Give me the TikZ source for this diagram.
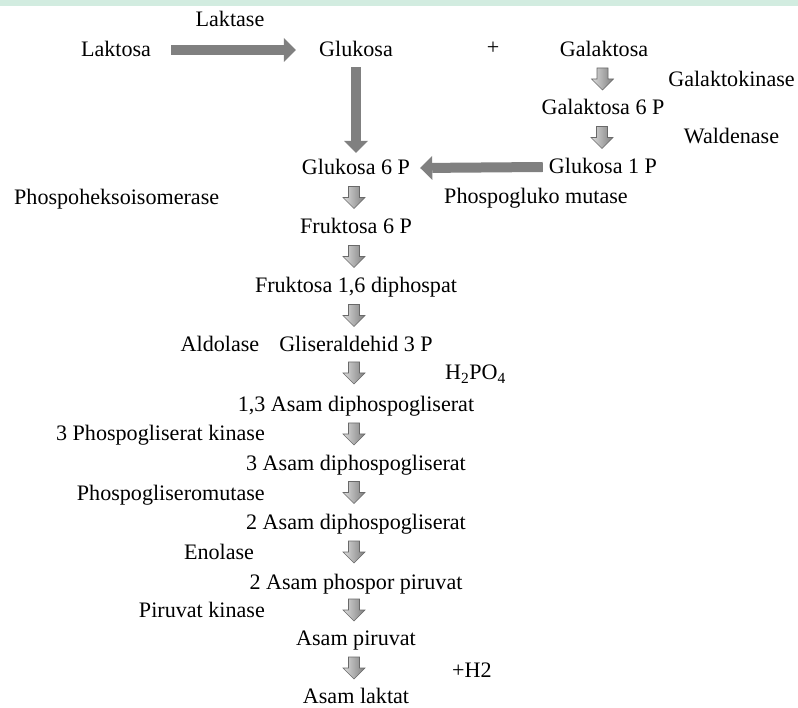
\documentclass[tikz,border=0pt]{standalone}
\usepackage{fontspec}
\setmainfont{Liberation Serif}
\usetikzlibrary{arrows.meta,calc}
\definecolor{arrgray}{RGB}{128,128,128}
\definecolor{bandgreen}{RGB}{210,236,224}
\definecolor{arrout}{RGB}{105,105,105}
\definecolor{arrlight}{RGB}{220,220,220}
\definecolor{arrdark}{RGB}{125,125,125}
\tikzset{
  lbl/.style={font=\fontsize{22.1}{26}\selectfont, inner sep=0pt, text height=14pt, text depth=0pt},
  bigarr/.style={draw=arrgray, line width=10pt, -{Triangle[width=24pt,length=12pt,line width=0pt]}},
  downarr/.pic={
    \draw[draw=arrout, line width=0.6pt, line join=miter, left color=arrlight, right color=arrdark]
      (-5.5,-11) -- (5.5,-11) -- (5.5,0) -- (11,0) -- (0,11) -- (-11,0) -- (-5.5,0) -- cycle;
  }
}
\begin{document}
\begin{tikzpicture}[x=1pt,y=-1pt]
\useasboundingbox (0,0) rectangle (798,708);
\fill[white] (0,0) rectangle (798,708);
\fill[bandgreen] (0,0) rectangle (798,6);

\node[lbl] (lakto) at (116,50) {Laktosa};
\node[lbl] (laktase) at (230,20) {Laktase};
\node[lbl] (glu) at (356,50) {Glukosa};
\node[lbl] (plus) at (493,48) {+};
\node[lbl] (gal) at (604,50) {Galaktosa};
\node[lbl] (galk) at (731.5,80) {Galaktokinase};
\node[lbl] (gal6) at (603,108) {Galaktosa 6 P};
\node[lbl] (wald) at (731.5,137) {Waldenase};
\node[lbl] (g1p) at (603,167) {Glukosa 1 P};
\node[lbl] (pgm) at (536,197) {Phospogluko mutase};
\node[lbl] (g6p) at (356,168) {Glukosa 6 P};
\node[lbl,anchor=west] (phi) at (14,198) {Phospoheksoisomerase};
\node[lbl] (f6p) at (356,227) {Fruktosa 6 P};
\node[lbl] (f16) at (356,286) {Fruktosa 1,6 diphospat};
\node[lbl] (ald) at (220,345) {Aldolase};
\node[lbl] (gli) at (356,345) {Gliseraldehid 3 P};
\node[lbl,anchor=west] (h2po4) at (445,373) {H\textsubscript{2}PO\textsubscript{4}};
\node[lbl] (a13) at (356,405) {1,3 Asam diphospogliserat};
\node[lbl,anchor=east] (pgk) at (265,433) {3 Phospogliserat kinase};
\node[lbl] (a3) at (356,463) {3 Asam diphospogliserat};
\node[lbl,anchor=east] (pgmu) at (265,493) {Phospogliseromutase};
\node[lbl] (a2) at (356,522) {2 Asam diphospogliserat};
\node[lbl] (eno) at (219,552) {Enolase};
\node[lbl] (app) at (356,582) {2 Asam phospor piruvat};
\node[lbl,anchor=east] (pk) at (265,610) {Piruvat kinase};
\node[lbl] (ap) at (356,638) {Asam piruvat};
\node[lbl,anchor=west] (h2) at (452,670) {+H2};
\node[lbl] (al) at (356,696) {Asam laktat};

% big arrows
\draw[bigarr] ([xshift=20pt]lakto.east) -- ([xshift=-23pt]glu.west);
\draw[bigarr] ([yshift=-10pt]glu.south) -- ([yshift=8pt]g6p.north);
\draw[bigarr] ([xshift=-6pt]g1p.west) -- ([xshift=10pt]g6p.east);

% small arrows
\pic at ($(gal)!0.5!(gal6)+(-1,0)$) {downarr};
\pic at ($(gal6)!0.5!(g1p)+(-1,0)$) {downarr};
\pic at ($(g6p)!0.5!(f6p)+(-2,0)$) {downarr};
\pic at ($(f6p)!0.5!(f16)+(-2,0)$) {downarr};
\pic at ($(f16)!0.5!(gli)+(-2,0)$) {downarr};
\pic at ($(gli)!0.5!(a13)+(-2,-2)$) {downarr};
\pic at ($(a13)!0.5!(a3)+(-2,0)$) {downarr};
\pic at ($(a3)!0.5!(a2)+(-2,0)$) {downarr};
\pic at ($(a2)!0.5!(app)+(-2,0)$) {downarr};
\pic at ($(app)!0.5!(ap)+(-2,0)$) {downarr};
\pic at ($(ap)!0.5!(al)+(-2,1)$) {downarr};
\end{tikzpicture}
\end{document}
